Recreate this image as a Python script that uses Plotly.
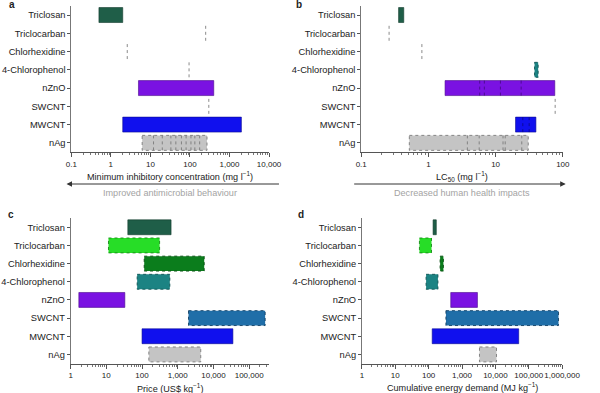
import plotly.graph_objects as go

W, H = 600, 393

categories = ["Triclosan", "Triclocarban", "Chlorhexidine", "4-Chlorophenol",
              "nZnO", "SWCNT", "MWCNT", "nAg"]
fill_colors = ["#1f5e48", "#27dd27", "#0b7d1c", "#1b8383",
               "#7a12e2", "#1f6ea8", "#1010ee", "#c4c4c4"]
edge_colors = ["#123a2c", "#168a16", "#064d10", "#0f5252",
               "#4a0a8c", "#123f63", "#0a0a90", "#7a7a7a"]
dotted_edge = [False, True, True, True, False, True, False, True]

# Panel a: minimum inhibitory concentration (mg l-1), reported values per compound
mic_triclosan = [0.5, 2]
mic_triclocarban = [250]
mic_chlorhexidine = [2.6]
mic_chlorophenol = [95]
mic_nzno = [5, 400]
mic_swcnt = [300]
mic_mwcnt = [2, 2000]
mic_nag = [6.2, 12, 20, 33, 44, 61, 80, 106, 133, 176, 270]
mic_values = [mic_triclosan, mic_triclocarban, mic_chlorhexidine, mic_chlorophenol,
              mic_nzno, mic_swcnt, mic_mwcnt, mic_nag]

# Panel b: LC50 (mg l-1)
lc_triclosan = [0.36, 0.43]
lc_triclocarban = [0.26]
lc_chlorhexidine = [0.8]
lc_chlorophenol = [38, 43]
lc_nzno = [1.77, 5.8, 6.8, 11.8, 24, 76]
lc_swcnt = [77]
lc_mwcnt = [19.8, 25.4, 31.6, 39.8]
lc_nag = [0.52, 3.8, 5.7, 12.9, 13.9, 24.5, 30.6]
lc_values = [lc_triclosan, lc_triclocarban, lc_chlorhexidine, lc_chlorophenol,
             lc_nzno, lc_swcnt, lc_mwcnt, lc_nag]

# Panel c: price (US$ kg-1)
price_low = [40, 11.5, 115, 73, 1.7, 2000, 100, 155]
price_high = [650, 310, 5500, 600, 33, 280000, 35000, 4400]

# Panel d: cumulative energy demand (MJ kg-1)
ced_low = [136, 53, 221, 84, 460, 330, 128, 3340]
ced_high = [170, 122, 277, 190, 2900, 780000, 50000, 10800]

ticks_a = [0.1, 1, 10, 100, 1000, 10000]
ticktext_a = ["0.1", "1", "10", "100", "1,000", "10,000"]
ticks_b = [0.1, 1, 10, 100]
ticktext_b = ["0.1", "1", "10", "100"]
ticks_c = [1, 10, 100, 1000, 10000, 100000]
ticktext_c = ["1", "10", "100", "1,000", "10,000", "100,000"]
ticks_d = [1, 10, 100, 1000, 10000, 100000, 1000000]
ticktext_d = ["1", "10", "100", "1,000", "10,000", "100,000", "1,000,000"]

BAR_W = 0.82
HALF = BAR_W / 2
FONT = "Liberation Sans, Arial, sans-serif"
TXT = "#222222"
NUM_SIZE = 8.0
CAT_SIZE = 9.3
TITLE_SIZE = 9.1

fig = go.Figure()


def add_range(lo, hi, i, xa, ya, mids=()):
    fig.add_trace(go.Bar(orientation="h", y=[i], base=[lo], x=[hi - lo], width=BAR_W,
                         marker=dict(color=fill_colors[i],
                                     line=dict(color=edge_colors[i],
                                               width=0 if dotted_edge[i] else 0.6)),
                         xaxis=xa, yaxis=ya, showlegend=False, hoverinfo="skip"))
    if dotted_edge[i]:
        fig.add_trace(go.Scatter(x=[lo, hi, hi, lo, lo],
                                 y=[i - HALF, i - HALF, i + HALF, i + HALF, i - HALF],
                                 mode="lines", line=dict(color=edge_colors[i], width=0.9, dash="dot"),
                                 xaxis=xa, yaxis=ya, showlegend=False, hoverinfo="skip"))
    if mids:
        xs, ys = [], []
        for m in mids:
            xs += [m, m, None]
            ys += [i - HALF, i + HALF, None]
        fig.add_trace(go.Scatter(x=xs, y=ys, mode="lines",
                                 line=dict(color=edge_colors[i], width=0.9, dash="dot"),
                                 xaxis=xa, yaxis=ya, showlegend=False, hoverinfo="skip"))


def add_single(v, i, xa, ya):
    fig.add_trace(go.Scatter(x=[v, v], y=[i - HALF, i + HALF], mode="lines",
                             line=dict(color="#8a8a8a", width=1, dash="dot"),
                             xaxis=xa, yaxis=ya, showlegend=False, hoverinfo="skip"))


def add_values_panel(values, xa, ya):
    for i, vals in enumerate(values):
        if len(vals) == 1:
            add_single(vals[0], i, xa, ya)
        else:
            s = sorted(vals)
            add_range(s[0], s[-1], i, xa, ya, mids=s[1:-1])


add_values_panel(mic_values, "x", "y")
add_values_panel(lc_values, "x2", "y2")
for i in range(len(categories)):
    add_range(price_low[i], price_high[i], i, "x3", "y3")
    add_range(ced_low[i], ced_high[i], i, "x4", "y4")


def minor_vals(lo_exp, hi_exp):
    out = []
    for e in range(lo_exp, hi_exp + 1):
        for k in range(2, 10):
            out.append(k * 10 ** e)
    return out


def xaxis(dom, rng, tv, tt, anchor, mlo, mhi):
    return dict(type="log", domain=[dom[0] / W, dom[1] / W], range=rng, anchor=anchor,
                tickmode="array", tickvals=tv, ticktext=tt, tickangle=0,
                showline=True, linecolor="#555", linewidth=1,
                ticks="outside", ticklen=4, tickcolor="#555", tickwidth=1,
                minor=dict(ticks="outside", ticklen=2, tickcolor="#777", tickwidth=0.8,
                           tickmode="array", tickvals=minor_vals(mlo, mhi), showgrid=False),
                showgrid=False, zeroline=False,
                tickfont=dict(size=NUM_SIZE, family=FONT, color=TXT))


def yaxis(top, bot, anchor):
    return dict(domain=[1 - bot / H, 1 - top / H], range=[7.5, -0.5], anchor=anchor,
                tickmode="array", tickvals=list(range(len(categories))), ticktext=categories,
                showline=True, linecolor="#777", linewidth=0.8,
                ticks="outside", ticklen=3, tickcolor="#555", tickwidth=1,
                showgrid=False, zeroline=False,
                tickfont=dict(size=CAT_SIZE, family=FONT, color=TXT))


layout = dict(
    width=W, height=H, margin=dict(l=0, r=0, t=0, b=0),
    paper_bgcolor="white", plot_bgcolor="white", barmode="overlay",
    font=dict(family=FONT, color=TXT, size=9.5),
    xaxis=xaxis((68, 274), [-1, 4], ticks_a, ticktext_a, "y", -2, 3),
    xaxis2=xaxis((370, 580), [-1, 2], ticks_b, ticktext_b, "y2", -1, 1),
    xaxis3=xaxis((67.3, 274), [0, 5.556], ticks_c, ticktext_c, "y3", 0, 5),
    xaxis4=xaxis((370.7, 579.3), [0, 6], ticks_d, ticktext_d, "y4", 0, 5),
    yaxis=yaxis(5.9, 152, "x"),
    yaxis2=yaxis(5.9, 152, "x2"),
    yaxis3=yaxis(218.2, 363.5, "x3"),
    yaxis4=yaxis(218.2, 363.5, "x4"),
)
fig.update_layout(**layout)


def ann(text, x, y, size=TITLE_SIZE, color=TXT, bold=False, xanchor="center"):
    if bold:
        text = "<b>" + text + "</b>"
    fig.add_annotation(text=text, x=x / W, y=1 - y / H, xref="paper", yref="paper",
                       showarrow=False, xanchor=xanchor, yanchor="middle",
                       font=dict(size=size, color=color, family=FONT))


# panel letters
ann("a", 1, 5, size=10, bold=True, xanchor="left")
ann("b", 300, 5, size=10, bold=True, xanchor="left")
ann("c", 0, 214, size=10, bold=True, xanchor="left")
ann("d", 302, 214, size=10, bold=True, xanchor="left")

# axis titles
ann("Minimum inhibitory concentration (mg l<sup>−1</sup>)", 171, 176)
ann("LC<sub>50</sub> (mg l<sup>−1</sup>)", 475, 176.5)
ann("Price (US$ kg<sup>−1</sup>)", 170.5, 387.5)
ann("Cumulative energy demand (MJ kg<sup>−1</sup>)", 475, 387)

# direction arrows
for x_head, x_tail in [(63, 277), (583, 370)]:
    fig.add_annotation(x=x_head / W, y=1 - 184 / H, ax=x_tail - x_head, ay=0,
                       xref="paper", yref="paper", axref="pixel", ayref="pixel",
                       text="", showarrow=True, arrowhead=2, arrowsize=1.1,
                       arrowwidth=1, arrowcolor="#333")
ann("Improved antimicrobial behaviour", 171, 192.5, color="#a3a3a3")
ann("Decreased human health impacts", 475, 192.5, color="#a3a3a3")

fig.write_html("out.html",
               config={"displayModeBar": False},
               post_script="document.body.style.margin='0';document.body.style.overflow='hidden';")
